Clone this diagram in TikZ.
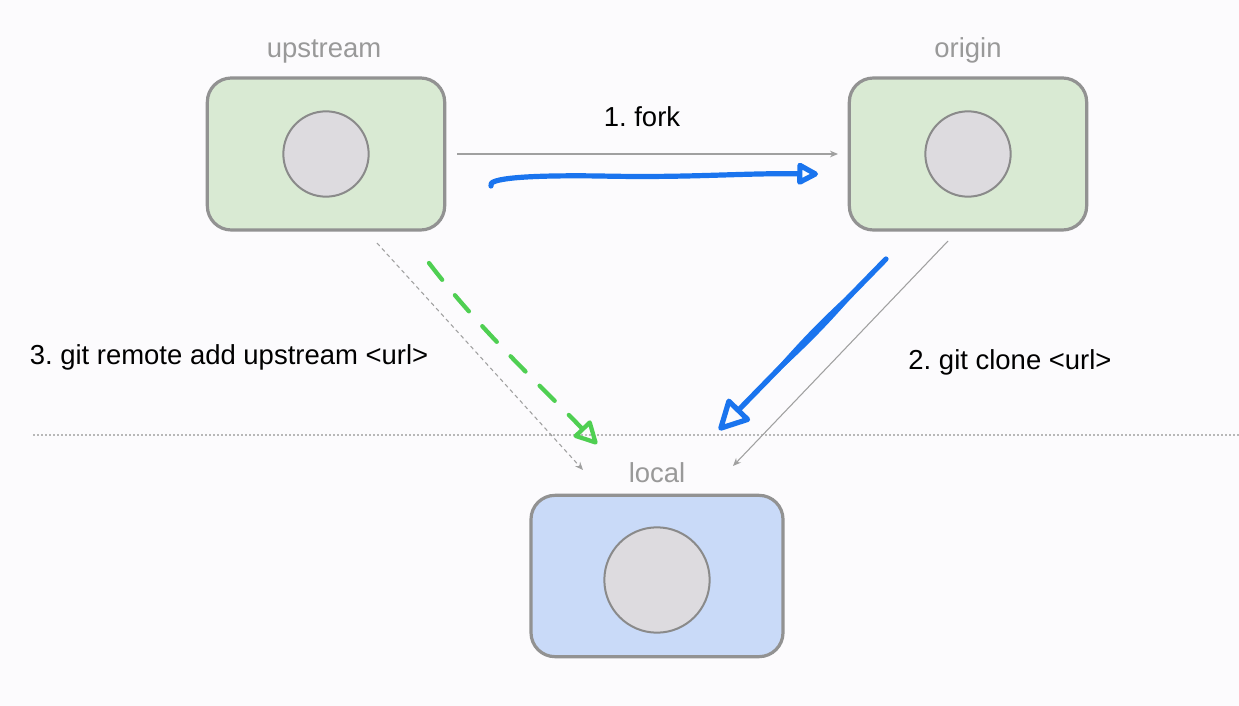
\documentclass[tikz,border=0pt]{standalone}
\usepackage{fontspec}
\setmainfont{Liberation Sans}
\usetikzlibrary{arrows.meta}
\definecolor{bg}{HTML}{FCFBFD}
\definecolor{boxline}{HTML}{929292}
\definecolor{greenfill}{HTML}{D9EAD3}
\definecolor{bluefill}{HTML}{C9DAF8}
\definecolor{circfill}{HTML}{DDDBDF}
\definecolor{circline}{HTML}{8A8A8A}
\definecolor{lblgray}{HTML}{999999}
\definecolor{penblue}{HTML}{1A74EE}
\definecolor{pengreen}{HTML}{4FCF52}
\definecolor{thingray}{HTML}{A0A0A0}
\tikzset{
  repobox/.style={draw=boxline, line width=2.4pt, rounded corners=18pt,
    minimum width=178pt, minimum height=114pt, inner sep=0pt},
  greenbox/.style={repobox, fill=greenfill},
  bluebox/.style={repobox, fill=bluefill, minimum width=189pt, minimum height=121pt},
  disc/.style={circle, draw=circline, line width=1.5pt, fill=circfill, inner sep=0pt},
  lbl/.style={text=lblgray, anchor=base, font=\fontsize{20.6}{24}\selectfont, inner sep=0pt},
  txt/.style={text=black, anchor=base, font=\fontsize{20.6}{24}\selectfont, inner sep=0pt},
  thinarrow/.style={draw=thingray, line width=0.8pt, -{Stealth[length=6pt,width=5pt]}},
  penline/.style={line width=3.9pt, line cap=round, line join=round},
}
\begin{document}
\frenchspacing
\begin{tikzpicture}[x=0.75pt,y=-0.75pt]
\fill[bg] (0,0) rectangle (1239,706);
\useasboundingbox (0,0) rectangle (1239,706);

% horizontal dotted divider
\coordinate (hl) at (33,435);
\coordinate (hr) at (1239,435);
\draw[draw=lblgray!70, line width=0.8pt, dash pattern=on 1.5pt off 1.5pt] (hl) -- (hr);

% repositories
\node[greenbox] (up) at (326,154) {};
\node[disc, minimum size=64pt] (upc) at (326,154) {};
\node[greenbox] (or) at (968,154) {};
\node[disc, minimum size=64pt] (orc) at (968,154) {};
\node[bluebox] (lo) at (657,576) {};
\node[disc, minimum size=79pt] (loc) at (657,580) {};

% labels
\node[lbl] (uplbl) at (324,58) {upstream};
\node[lbl] (orlbl) at (968,58) {origin};
\node[lbl] (lolbl) at (657,482) {local};

\node[txt] (forklbl) at (642,127) {1. fork};
\node[txt] (remotelbl) at (229,364) {3. git remote add upstream <url>};
\node[txt] (clonelbl) at (1010,369) {2. git clone <url>};

% thin gray connectors
\coordinate (f1) at (457,154);
\coordinate (f2) at (838,154);
\draw[thinarrow] (f1) -- (f2);

\coordinate (d1) at (377,243);
\coordinate (d2) at (583,470);
\draw[thinarrow, dash pattern=on 3pt off 2.5pt] (d1) -- (d2);

\coordinate (c1) at (948,241);
\coordinate (c2) at (733,466);
\draw[thinarrow] (c1) -- (c2);

% hand-drawn blue fork arrow
\coordinate (b1) at (491,186);
\coordinate (b2) at (818,174);
\draw[penline, draw=penblue, -{Triangle[open,round,length=18pt,width=18pt]}]
  (b1) .. controls (486,178) and (530,175) .. (600,176)
  .. controls (690,178) and (740,173) .. (b2);

% hand-drawn blue clone arrow (thicker in the middle)
\coordinate (g1) at (886,259);
\coordinate (g2) at (719,430);
\draw[penline, draw=penblue, -{Triangle[open,round,length=25pt,width=25pt]}]
  (g1) -- (g2);
\fill[penblue] (869.3,276.1) .. controls (836.7,316.7) and (800.5,353.7) .. (760.75,387.25)
  .. controls (793.3,346.7) and (829.5,309.7) .. cycle;

% hand-drawn green dashed remote arrow
\coordinate (h1) at (429,263);
\coordinate (h2) at (597,444);
\draw[penline, draw=pengreen, line width=3.2pt, dash pattern=on 16pt off 15pt,
  -{Triangle[open,round,length=19pt,width=19pt]}]
  (h1) .. controls (480,330) and (545,390) .. (h2);
\end{tikzpicture}
\end{document}
